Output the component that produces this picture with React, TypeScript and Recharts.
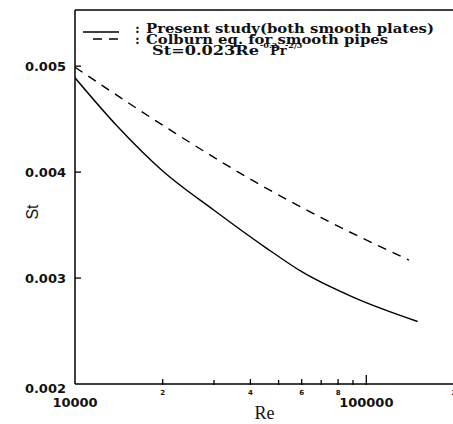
import { LineChart, Line, XAxis, YAxis, ReferenceLine, Customized } from 'recharts';

// Re / St
const presentRe = [10000, 14000, 20000, 30000, 45000, 60000, 90000, 150000];
const presentSt = [0.00489, 0.00443, 0.00401, 0.00364, 0.00329, 0.00306, 0.00282, 0.00259];
const colburnRe = [10000, 22000, 42000, 70000, 140000];
const colburnSt = [0.00499, 0.00437, 0.0039, 0.00357, 0.00317];

const xTicks = [10000, 20000, 30000, 40000, 50000, 60000, 70000, 80000, 90000, 100000, 200000];
const xTickLabels: Record<number, string> = {
  10000: '10000',
  20000: '2',
  40000: '4',
  60000: '6',
  80000: '8',
  100000: '100000',
  200000: '2',
};
const yTicks = [0.002, 0.003, 0.004, 0.005];
const yMax = 0.00553;

const presentData = presentRe.map((re, i) => ({ re, st: presentSt[i] }));
const colburnData = colburnRe.map((re, i) => ({ re, st: colburnSt[i] }));

const serif = '"DejaVu Serif", serif';
const sans = '"DejaVu Sans", sans-serif';

function XTick({ x, y, payload }: any) {
  const v = payload.value as number;
  const label = xTickLabels[v];
  const big = v === 10000 || v === 100000;
  const len = v === 10000 ? 0 : v === 100000 || v === 200000 ? 9 : label ? 5 : 4;
  return (
    <g>
      {len > 0 && <line x1={x} x2={x} y1={y + 1} y2={y - len} stroke="#000" strokeWidth={1.3} />}
      {label && (
        <text
          x={x}
          y={big ? y + 23 : y + 11}
          textAnchor="middle"
          fontFamily={sans}
          fontWeight="bold"
          fontSize={big ? 13 : 7}
          fill="#111"
        >
          {label}
        </text>
      )}
    </g>
  );
}

function YTick({ x, y, payload }: any) {
  const v = payload.value as number;
  return (
    <g>
      {v !== 0.002 && <line x1={x} x2={x + 6} y1={y} y2={y} stroke="#000" strokeWidth={1.3} />}
      <text
        x={x - 9}
        y={v === 0.002 ? y + 9 : y + 5}
        textAnchor="end"
        fontFamily={sans}
        fontWeight="bold"
        fontSize={13}
        fill="#111"
      >
        {v.toFixed(3)}
      </text>
    </g>
  );
}

function LegendBox() {
  return (
    <g fontFamily={serif} fontWeight="bold" fontSize={13} fill="#111">
      <line x1={83} x2={119} y1={32} y2={32} stroke="#000" strokeWidth={1.3} />
      <text x={135} y={33}>:</text>
      <text x={146} y={33} textLength={288} lengthAdjust="spacingAndGlyphs">
        Present study(both smooth plates)
      </text>
      <line x1={93} x2={121} y1={39} y2={39} stroke="#000" strokeWidth={1.3} strokeDasharray="9 7" />
      <text x={135} y={44}>:</text>
      <text x={146} y={44} textLength={242} lengthAdjust="spacingAndGlyphs">
        Colburn eq. for smooth pipes
      </text>
      <text x={152} y={55} textLength={107} lengthAdjust="spacingAndGlyphs">
        St=0.023Re
      </text>
      <text x={260} y={48} fontSize={8}>-0.2</text>
      <text x={270} y={55}>Pr</text>
      <text x={285} y={48} fontSize={8}>-2/3</text>
    </g>
  );
}

export default function App() {
  return (
    <div style={{ position: 'absolute', left: 0, top: 0, background: '#fff' }}>
      <LineChart width={453} height={424} margin={{ top: 10, right: -1, bottom: 0, left: 0 }}>
        <XAxis
          dataKey="re"
          type="number"
          scale="log"
          domain={[10000, 200000]}
          ticks={xTicks}
          interval={0}
          allowDataOverflow
          height={40}
          tickSize={0}
          tickMargin={0}
          tickLine={false}
          axisLine={{ stroke: '#000', strokeWidth: 1.5 }}
          tick={<XTick />}
          label={{
            content: ({ viewBox }: any) => (
              <text
                x={viewBox.x + viewBox.width / 2}
                y={viewBox.y + 35}
                textAnchor="middle"
                fontFamily='"Liberation Serif", serif'
                fontSize={18}
                fill="#111"
              >
                Re
              </text>
            ),
          }}
        />
        <YAxis
          type="number"
          domain={[0.002, yMax]}
          ticks={yTicks}
          interval={0}
          allowDataOverflow
          width={75}
          tickSize={0}
          tickMargin={0}
          tickLine={false}
          axisLine={{ stroke: '#000', strokeWidth: 1.5 }}
          tick={<YTick />}
          label={{
            content: ({ viewBox }: any) => (
              <text
                x={38}
                y={viewBox.y + viewBox.height / 2 + 15}
                textAnchor="middle"
                transform={`rotate(-90 38 ${viewBox.y + viewBox.height / 2 + 15})`}
                fontFamily='"Liberation Sans", sans-serif'
                fontSize={16}
                fill="#111"
              >
                St
              </text>
            ),
          }}
        />
        <ReferenceLine y={yMax} stroke="#000" strokeWidth={1.5} />
        <Line
          data={presentData}
          dataKey="st"
          type="monotone"
          stroke="#000"
          strokeWidth={1.4}
          dot={false}
          isAnimationActive={false}
        />
        <Line
          data={colburnData}
          dataKey="st"
          type="monotone"
          stroke="#000"
          strokeWidth={1.4}
          strokeDasharray="9 7"
          dot={false}
          isAnimationActive={false}
        />
        <Customized component={LegendBox} />
      </LineChart>
    </div>
  );
}
